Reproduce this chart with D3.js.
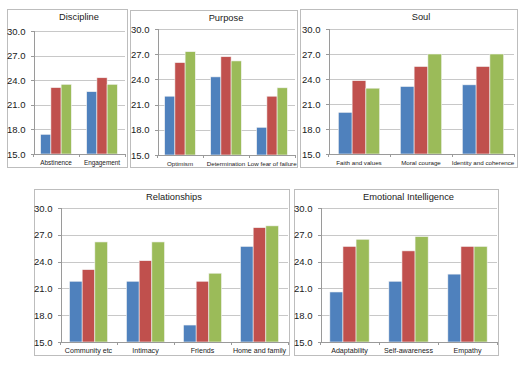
<!DOCTYPE html>
<html lang="en">
<head>
    <meta charset="UTF-8">
    <title>Survey Scores</title>
    <script src="https://d3js.org/d3.v7.min.js"></script>
    <style>
        body {
            margin: 0;
            background-color: white;
            font-family: "Liberation Sans", Arial, sans-serif;
        }
        .box { fill: white; stroke: #bdbdbd; stroke-width: 1; }
        .grid line { stroke: #c8c8c8; shape-rendering: crispEdges; }
        .axis line, .axis path { stroke: #9a9a9a; shape-rendering: crispEdges; }
        .bar { stroke: #f4f4f4; stroke-width: 0.6; }
    </style>
</head>
<body>
    <svg id="chart" width="520" height="390"></svg>

    <script>
        // values, one array per series (blue, red, green)
        const yTicks = [15, 18, 21, 24, 27, 30];
        const seriesColors = ["#4f81bd", "#c0504d", "#9bbb59"];

        const disciplineCats = ["Abstinence", "Engagement"];
        const disciplineA = [17.4, 22.6];
        const disciplineB = [23.1, 24.3];
        const disciplineC = [23.5, 23.5];

        const purposeCats = ["Optimism", "Determination", "Low fear of failure"];
        const purposeA = [22.0, 24.3, 18.3];
        const purposeB = [26.0, 26.7, 22.0];
        const purposeC = [27.3, 26.2, 23.0];

        const soulCats = ["Faith and values", "Moral courage", "Identity and coherence"];
        const soulA = [20.0, 23.1, 23.3];
        const soulB = [23.8, 25.5, 25.5];
        const soulC = [22.9, 27.0, 27.0];

        const relCats = ["Community etc", "Intimacy", "Friends", "Home and family"];
        const relA = [21.8, 21.8, 16.9, 25.7];
        const relB = [23.1, 24.1, 21.8, 27.8];
        const relC = [26.2, 26.2, 22.7, 28.0];

        const eiCats = ["Adaptability", "Self-awareness", "Empathy"];
        const eiA = [20.6, 21.8, 22.6];
        const eiB = [25.7, 25.2, 25.7];
        const eiC = [26.5, 26.8, 25.7];

        // panel layout: outer box and plot area
        const panels = [
            { title: "Discipline", cats: disciplineCats, series: [disciplineA, disciplineB, disciplineC],
              box: [7, 9, 120, 158], plot: [33, 125, 31, 154], labelSize: 6.4 },
            { title: "Purpose", cats: purposeCats, series: [purposeA, purposeB, purposeC],
              box: [130, 10, 167, 157], plot: [157, 295, 29, 155], labelSize: 6.2 },
            { title: "Soul", cats: soulCats, series: [soulA, soulB, soulC],
              box: [300, 9, 217, 158], plot: [328, 514, 29, 154], labelSize: 6.2 },
            { title: "Relationships", cats: relCats, series: [relA, relB, relC],
              box: [34, 189, 255, 166], plot: [60, 288, 208, 342], labelSize: 7.1 },
            { title: "Emotional Intelligence", cats: eiCats, series: [eiA, eiB, eiC],
              box: [294, 189, 204, 166], plot: [320, 497, 208, 342], labelSize: 7.1 }
        ];

        const svg = d3.select("#chart");

        panels.forEach(p => {
            const g = svg.append("g");
            const [bx, by, bw, bh] = p.box;
            const [left, right, top, bottom] = p.plot;

            g.append("rect").attr("class", "box")
                .attr("x", bx + 0.5).attr("y", by + 0.5)
                .attr("width", bw).attr("height", bh);

            const clip = "clip-" + p.title.replace(/\s/g, "");
            g.append("clipPath").attr("id", clip)
                .append("rect").attr("x", bx).attr("y", by).attr("width", bw + 1).attr("height", bh + 1);
            const inner = g.append("g").attr("clip-path", `url(#${clip})`);

            const y = d3.scaleLinear().domain([15, 30]).range([bottom, top]);
            const x = d3.scaleBand().domain(p.cats).range([left, right])
                .paddingInner(1 / 3).paddingOuter(1 / 6);
            const xs = d3.scaleBand().domain([0, 1, 2]).range([0, x.bandwidth()]);

            // gridlines
            inner.append("g").attr("class", "grid")
                .selectAll("line").data(yTicks.slice(1)).join("line")
                .attr("x1", left).attr("x2", right)
                .attr("y1", d => Math.round(y(d)) + 0.5).attr("y2", d => Math.round(y(d)) + 0.5);

            // y axis
            const ya = inner.append("g").attr("class", "axis")
                .attr("transform", `translate(${left + 0.5},0)`)
                .call(d3.axisLeft(y).tickValues(yTicks).tickFormat(d3.format(".1f")).tickSize(3).tickPadding(5));
            ya.selectAll("text").style("font-size", "9.5px").style("fill", "#1a1a1a")
                .style("font-family", "Liberation Sans, Arial, sans-serif");

            // bars
            p.series.forEach((vals, si) => {
                inner.append("g").selectAll("rect").data(vals).join("rect")
                    .attr("class", "bar")
                    .attr("x", (d, i) => x(p.cats[i]) + xs(si))
                    .attr("y", d => y(d))
                    .attr("width", xs.bandwidth())
                    .attr("height", d => y(15) - y(d))
                    .attr("fill", seriesColors[si]);
            });

            // x axis line with ticks between categories
            const step = x.step();
            const xa = inner.append("g").attr("class", "axis");
            xa.append("line").attr("x1", left).attr("x2", right)
                .attr("y1", Math.round(bottom) + 0.5).attr("y2", Math.round(bottom) + 0.5);
            xa.selectAll("line.tk").data(d3.range(p.cats.length + 1)).join("line")
                .attr("class", "tk")
                .attr("x1", i => Math.round(left + i * step) + 0.5)
                .attr("x2", i => Math.round(left + i * step) + 0.5)
                .attr("y1", Math.round(bottom)).attr("y2", Math.round(bottom) + 3);

            // category labels
            inner.append("g").selectAll("text").data(p.cats).join("text")
                .attr("x", d => x(d) + x.bandwidth() / 2)
                .attr("y", bottom + 11)
                .attr("text-anchor", "middle")
                .style("font-size", p.labelSize + "px")
                .style("fill", "#1a1a1a")
                .text(d => d);

            // title
            g.append("text")
                .attr("x", (left + right) / 2)
                .attr("y", by + 10.5)
                .attr("text-anchor", "middle")
                .style("font-size", "9.3px")
                .style("fill", "#1a1a1a")
                .text(p.title);
        });
    </script>
</body>
</html>
